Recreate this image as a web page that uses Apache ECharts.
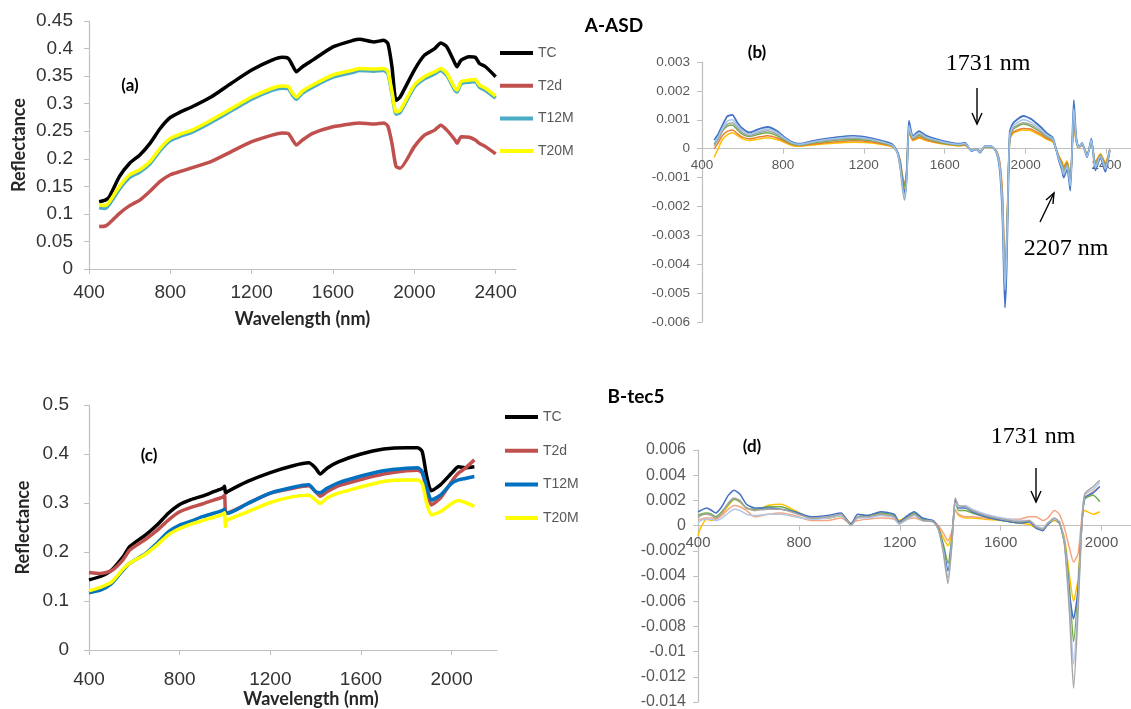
<!doctype html>
<html>
    <head>
        <meta charset="utf-8">
        <style>
            html, body { margin: 0; padding: 0; background: #fff; }
            #main { width: 1131px; height: 709px; }
        </style>
    </head>
    <body>
        <div id="main"></div>
        <script src="https://cdn.jsdelivr.net/npm/echarts@6/dist/echarts.min.js"></script>
        <script>
            // ---- (a) A-ASD reflectance ----
            var A_WL = [450, 480, 500, 550, 600, 650, 700, 750, 800, 850, 900, 1000, 1100, 1200, 1300, 1350, 1380, 1400, 1420, 1450, 1500, 1600, 1700, 1730, 1800, 1850, 1870, 1890, 1910, 1930, 2000, 2050, 2100, 2130, 2160, 2200, 2210, 2230, 2270, 2300, 2320, 2350, 2400];
            var A_TC = [0.122, 0.125, 0.131, 0.168, 0.192, 0.207, 0.228, 0.255, 0.275, 0.285, 0.293, 0.312, 0.337, 0.361, 0.379, 0.384, 0.382, 0.370, 0.358, 0.367, 0.379, 0.403, 0.415, 0.417, 0.412, 0.415, 0.409, 0.367, 0.306, 0.312, 0.361, 0.388, 0.400, 0.410, 0.403, 0.373, 0.367, 0.379, 0.385, 0.384, 0.373, 0.367, 0.349];
            var A_T2d = [0.077, 0.078, 0.083, 0.101, 0.115, 0.125, 0.141, 0.159, 0.171, 0.177, 0.183, 0.195, 0.213, 0.231, 0.243, 0.247, 0.246, 0.235, 0.225, 0.234, 0.246, 0.258, 0.264, 0.265, 0.263, 0.265, 0.259, 0.228, 0.186, 0.183, 0.222, 0.243, 0.252, 0.261, 0.252, 0.234, 0.228, 0.240, 0.239, 0.234, 0.228, 0.222, 0.209];
            var A_T12M = [0.111, 0.110, 0.117, 0.145, 0.166, 0.176, 0.191, 0.215, 0.233, 0.241, 0.247, 0.266, 0.287, 0.308, 0.324, 0.328, 0.327, 0.316, 0.308, 0.319, 0.330, 0.348, 0.357, 0.360, 0.359, 0.360, 0.354, 0.318, 0.281, 0.284, 0.330, 0.345, 0.354, 0.360, 0.351, 0.324, 0.321, 0.336, 0.339, 0.340, 0.330, 0.324, 0.310];
            var A_T20M = [0.116, 0.115, 0.122, 0.150, 0.171, 0.180, 0.195, 0.219, 0.237, 0.245, 0.251, 0.270, 0.291, 0.312, 0.328, 0.332, 0.331, 0.320, 0.312, 0.323, 0.334, 0.352, 0.361, 0.364, 0.363, 0.364, 0.358, 0.322, 0.285, 0.288, 0.334, 0.349, 0.358, 0.364, 0.355, 0.328, 0.325, 0.340, 0.343, 0.344, 0.334, 0.328, 0.314];

            // ---- (b) A-ASD first derivative ----
            var B_WL = [460, 480, 500, 525, 550, 575, 600, 635, 680, 725, 770, 800, 840, 880, 950, 1000, 1070, 1150, 1240, 1300, 1340, 1365, 1380, 1393, 1402, 1413, 1423, 1443, 1473, 1510, 1590, 1675, 1700, 1732, 1757, 1775, 1798, 1830, 1856, 1873, 1886, 1898, 1906, 1914, 1922, 1940, 1988, 2024, 2073, 2106, 2131, 2139, 2164, 2180, 2188, 2205, 2221, 2238, 2250, 2262, 2279, 2304, 2325, 2345, 2370, 2394, 2416];
            var B_S1 = [0.0003, 0.0005, 0.0008, 0.00112, 0.00117, 0.0009, 0.0007, 0.00056, 0.00068, 0.00075, 0.00062, 0.00044, 0.00025, 0.00017, 0.00027, 0.00033, 0.0004, 0.00044, 0.00036, 0.00025, 0.00015, -0.0001, -0.00055, -0.0013, -0.0016, -0.0008, 0.00096, 0.00044, 0.00061, 0.00044, 0.00027, 0.00017, 0.00021, -0.00008, -0.00002, -0.00014, 0.00009, 0.00009, -0.00014, -0.0008, -0.0025, -0.0055, -0.0041, -0.0014, 0.0006, 0.0009, 0.00113, 0.00104, 0.00076, 0.00053, 0.00041, 0.0003, -0.0004, -0.00075, -0.001, -0.0007, -0.00145, 0.00168, 0.0004, 0.00005, 0.0002, -0.0003, 0.00035, -0.00075, -0.0003, -0.0008, -0.00005];
            var B_S2 = [0.0002, 0.0004, 0.0007, 0.00095, 0.001, 0.0008, 0.00062, 0.0005, 0.0006, 0.00068, 0.00056, 0.0004, 0.00022, 0.00015, 0.00024, 0.0003, 0.00036, 0.0004, 0.00032, 0.00022, 0.00012, -0.00012, -0.0006, -0.0014, -0.0017, -0.0009, 0.0008, 0.0004, 0.00055, 0.0004, 0.00024, 0.00015, 0.00019, -0.00006, -0.00001, -0.00012, 0.00008, 0.00008, -0.00012, -0.0007, -0.0022, -0.0049, -0.0036, -0.0012, 0.0005, 0.0008, 0.001, 0.00092, 0.00068, 0.00047, 0.00037, 0.00026, -0.00036, -0.00066, -0.0009, -0.00062, -0.0013, 0.0014, 0.00035, 0.00004, 0.00018, -0.00027, 0.0003, -0.00066, -0.00027, -0.0007, -0.00004];
            var B_S3 = [0.0001, 0.0003, 0.0006, 0.00085, 0.0009, 0.00072, 0.00055, 0.00045, 0.00055, 0.00062, 0.0005, 0.00036, 0.0002, 0.00013, 0.00022, 0.00027, 0.00033, 0.00036, 0.0003, 0.0002, 0.0001, -0.00015, -0.0007, -0.0015, -0.00178, -0.001, 0.0007, 0.00036, 0.0005, 0.00037, 0.00022, 0.00014, 0.00017, -0.00005, 0.0, -0.0001, 0.00007, 0.00007, -0.0001, -0.0006, -0.002, -0.0044, -0.0033, -0.0011, 0.00045, 0.00072, 0.0009, 0.00084, 0.00061, 0.00043, 0.00034, 0.00024, -0.00032, -0.0006, -0.0008, -0.00056, -0.0012, 0.0012, 0.00032, 0.00004, 0.00016, -0.00024, 0.00028, -0.0006, -0.00024, -0.00064, -0.00004];
            var B_S4 = [0.00015, 0.00035, 0.0006, 0.00078, 0.00082, 0.00065, 0.0005, 0.00042, 0.0005, 0.00055, 0.00045, 0.00032, 0.00018, 0.00012, 0.0002, 0.00024, 0.0003, 0.00032, 0.00027, 0.00018, 0.0001, -0.0001, -0.0005, -0.0011, -0.0013, -0.0007, 0.0007, 0.00034, 0.00046, 0.00034, 0.0002, 0.00013, 0.00015, -0.00005, 0.0, -0.0001, 0.00006, 0.00006, -0.0001, -0.0006, -0.0019, -0.0045, -0.0034, -0.0011, 0.0004, 0.00068, 0.00085, 0.00078, 0.00057, 0.0004, 0.00032, 0.00022, -0.0003, -0.00056, -0.00075, -0.00052, -0.0011, 0.0011, 0.0003, 0.00004, 0.00015, -0.00022, 0.00026, -0.00056, -0.00022, -0.0006, -0.00004];
            var B_S5 = [0.0, 0.0002, 0.00045, 0.0006, 0.00065, 0.00052, 0.0004, 0.00034, 0.0004, 0.00045, 0.00038, 0.00028, 0.00015, 0.0001, 0.00016, 0.0002, 0.00024, 0.00027, 0.00023, 0.00015, 0.00008, -0.0001, -0.0004, -0.001, -0.0012, -0.0006, 0.0006, 0.0003, 0.0004, 0.0003, 0.00018, 0.00011, 0.00013, -0.00004, 0.0, -0.00008, 0.00005, 0.00005, -0.00008, -0.0005, -0.0016, -0.0042, -0.0031, -0.001, 0.00035, 0.00058, 0.0007, 0.00068, 0.0005, 0.00035, 0.00027, 0.0002, -0.00026, -0.00049, -0.00065, -0.00046, -0.001, 0.0009, 0.00026, 0.00003, 0.00013, -0.0002, 0.00023, -0.00049, -0.0002, -0.00052, -0.00003];
            var B_S6 = [-0.0003, 0.0, 0.0003, 0.00048, 0.00055, 0.00045, 0.00034, 0.00028, 0.00033, 0.00038, 0.00032, 0.00024, 0.00012, 0.00008, 0.00013, 0.00016, 0.0002, 0.00022, 0.0002, 0.00013, 0.00006, -0.0001, -0.0005, -0.0012, -0.0014, -0.0007, 0.00055, 0.00028, 0.00036, 0.00027, 0.00016, 0.0001, 0.00012, -0.00004, 0.0, -0.00008, 0.00005, 0.00005, -0.00008, -0.0006, -0.0018, -0.0047, -0.0035, -0.0011, 0.0003, 0.00055, 0.00065, 0.00063, 0.00046, 0.00032, 0.00025, 0.00018, -0.00024, -0.00045, -0.0006, -0.00042, -0.0011, 0.0008, 0.00024, 0.00003, 0.00012, -0.00018, 0.00021, -0.00045, -0.00018, -0.00048, -0.00003];

            // ---- (c) B-tec5 reflectance ----
            var C_WL = [400, 450, 500, 550, 580, 650, 700, 750, 800, 850, 900, 950, 990, 998, 1002, 1010, 1100, 1200, 1300, 1370, 1400, 1420, 1450, 1500, 1600, 1700, 1800, 1850, 1870, 1890, 1910, 1950, 2000, 2030, 2060, 2100];
            var C_TC = [0.143, 0.150, 0.163, 0.190, 0.211, 0.235, 0.255, 0.279, 0.297, 0.307, 0.314, 0.323, 0.330, 0.334, 0.320, 0.323, 0.344, 0.362, 0.376, 0.382, 0.371, 0.359, 0.371, 0.384, 0.400, 0.410, 0.413, 0.413, 0.405, 0.354, 0.325, 0.337, 0.361, 0.374, 0.372, 0.374];
            var C_T2d = [0.158, 0.156, 0.162, 0.184, 0.204, 0.226, 0.244, 0.265, 0.282, 0.291, 0.298, 0.306, 0.312, 0.316, 0.282, 0.280, 0.299, 0.320, 0.330, 0.335, 0.323, 0.314, 0.323, 0.335, 0.348, 0.359, 0.366, 0.367, 0.361, 0.327, 0.296, 0.310, 0.344, 0.361, 0.371, 0.388];
            var C_T12M = [0.117, 0.122, 0.136, 0.163, 0.177, 0.197, 0.218, 0.241, 0.255, 0.263, 0.272, 0.279, 0.285, 0.287, 0.279, 0.279, 0.299, 0.320, 0.332, 0.337, 0.323, 0.321, 0.330, 0.341, 0.355, 0.366, 0.371, 0.372, 0.364, 0.333, 0.306, 0.316, 0.340, 0.347, 0.350, 0.354];
            var C_T20M = [0.121, 0.128, 0.139, 0.165, 0.177, 0.196, 0.214, 0.235, 0.248, 0.257, 0.264, 0.271, 0.277, 0.280, 0.252, 0.265, 0.282, 0.301, 0.313, 0.316, 0.306, 0.299, 0.310, 0.320, 0.333, 0.344, 0.347, 0.347, 0.340, 0.299, 0.276, 0.282, 0.299, 0.305, 0.301, 0.293];

            // ---- (d) B-tec5 first derivative ----
            var D_WL = [400, 410, 434, 454, 470, 494, 520, 543, 566, 592, 625, 678, 730, 783, 849, 914, 967, 993, 1006, 1033, 1072, 1125, 1178, 1197, 1230, 1257, 1290, 1333, 1353, 1373, 1391, 1407, 1420, 1433, 1460, 1487, 1540, 1607, 1673, 1713, 1740, 1767, 1787, 1813, 1833, 1853, 1873, 1889, 1907, 1920, 1933, 1967, 1993];
            var D_S1 = [0.0006, 0.0008, 0.0009, 0.0008, 0.0006, 0.001, 0.0018, 0.0022, 0.002, 0.0014, 0.0012, 0.0013, 0.0013, 0.001, 0.0006, 0.0007, 0.0009, 0.0003, 0.0, 0.0007, 0.0007, 0.0009, 0.0007, 0.0002, 0.0006, 0.0009, 0.0004, 0.0003, -0.0003, -0.0022, -0.0046, -0.0014, 0.0022, 0.0016, 0.0015, 0.0012, 0.0008, 0.0005, 0.0003, 0.0004, -0.0001, -0.0003, 0.0002, 0.0006, 0.0003, -0.0015, -0.007, -0.0129, -0.0068, -0.0006, 0.0025, 0.0031, 0.0036];
            var D_S2 = [0.0011, 0.0012, 0.0014, 0.0012, 0.001, 0.0015, 0.0024, 0.0028, 0.0025, 0.0017, 0.0014, 0.0014, 0.0013, 0.0011, 0.0007, 0.0008, 0.001, 0.0004, 0.0001, 0.0009, 0.0008, 0.0011, 0.0009, 0.0003, 0.0008, 0.0011, 0.0006, 0.0004, -0.0002, -0.0018, -0.0036, -0.0011, 0.0021, 0.0014, 0.0014, 0.0011, 0.0007, 0.0004, 0.0002, 0.0003, -0.0002, -0.0004, 0.0001, 0.0005, 0.0002, -0.0014, -0.0055, -0.0074, -0.005, -0.0005, 0.0022, 0.0026, 0.0031];
            var D_S3 = [0.0002, 0.0004, 0.0005, 0.0005, 0.0004, 0.0006, 0.001, 0.0013, 0.0012, 0.0009, 0.0008, 0.0009, 0.0009, 0.0007, 0.0005, 0.0006, 0.0008, 0.0003, 0.0, 0.0006, 0.0006, 0.0008, 0.0006, 0.0001, 0.0005, 0.0008, 0.0004, 0.0003, -0.0003, -0.002, -0.0042, -0.0013, 0.0018, 0.0015, 0.0016, 0.0013, 0.0009, 0.0006, 0.0004, 0.0004, 0.0, -0.0002, 0.0002, 0.0005, 0.0003, -0.0013, -0.0062, -0.011, -0.006, -0.0005, 0.0024, 0.0029, 0.0034];
            var D_S4 = [0.0004, 0.0005, 0.0006, 0.0006, 0.0005, 0.0008, 0.0013, 0.0016, 0.0015, 0.0012, 0.0007, 0.0009, 0.001, 0.0008, 0.0004, 0.0004, 0.0006, 0.0003, 0.0002, 0.0004, 0.0005, 0.0006, 0.0005, 0.0002, 0.0005, 0.0006, 0.0004, 0.0003, 0.0, -0.0006, -0.0012, -0.0004, 0.0012, 0.0009, 0.0007, 0.0007, 0.0006, 0.0005, 0.0005, 0.0007, 0.0007, 0.0004, 0.0006, 0.0012, 0.0009, -0.0002, -0.0018, -0.0029, -0.0022, 0.0003, 0.0022, 0.0027, 0.0031];
            var D_S5 = [-0.0008, -0.0002, 0.0005, 0.0004, 0.0005, 0.0009, 0.0016, 0.0021, 0.0019, 0.0014, 0.0012, 0.0016, 0.0017, 0.0012, 0.0006, 0.0006, 0.0008, 0.0004, 0.0002, 0.0006, 0.0008, 0.0009, 0.0008, 0.0004, 0.0007, 0.0009, 0.0005, 0.0003, -0.0001, -0.001, -0.0016, -0.0006, 0.0013, 0.0008, 0.0006, 0.0006, 0.0005, 0.0004, 0.0002, 0.0001, -0.0002, -0.0003, 0.0001, 0.0004, 0.0002, -0.001, -0.004, -0.006, -0.0042, -0.0002, 0.0012, 0.0009, 0.0011];
            var D_S6 = [0.0008, 0.0009, 0.001, 0.0009, 0.0007, 0.0011, 0.0017, 0.0021, 0.0019, 0.0014, 0.0013, 0.0015, 0.0015, 0.0011, 0.0006, 0.0006, 0.0008, 0.0003, 0.0001, 0.0007, 0.0008, 0.001, 0.0008, 0.0003, 0.0007, 0.001, 0.0005, 0.0003, -0.0002, -0.0015, -0.003, -0.0009, 0.0019, 0.0012, 0.0012, 0.001, 0.0007, 0.0004, 0.0002, 0.0003, -0.0001, -0.0003, 0.0001, 0.0005, 0.0002, -0.0012, -0.005, -0.0092, -0.0052, -0.0004, 0.0021, 0.0024, 0.0019];

            var LEGEND_NAMES = ['TC', 'T2d', 'T12M', 'T20M'];

            function pairs(wl, vals) {
                return wl.map(function (w, i) { return [w, vals[i]]; });
            }

            var AXIS_GREY = '#bfbfbf';
            var BIG_FONT = 'Liberation Sans';
            var TITLE_FONT = 'Lato';

            // offset lifts the wavelength axis of the derivative panels up to y = 0
            function xAxis(gi, min, max, fontSize, margin, color, name, nameGap, namePad, offset) {
                return {
                    gridIndex: gi, type: 'value', min: min, max: max, interval: 400,
                    offset: offset || 0,
                    splitLine: { show: false },
                    axisLine: { onZero: false, lineStyle: { color: AXIS_GREY, width: 1.2 } },
                    axisTick: { show: true, length: 5, lineStyle: { color: AXIS_GREY } },
                    axisLabel: {
                        fontFamily: BIG_FONT, fontSize: fontSize, color: color, margin: margin, showMaxLabel: false,
                        formatter: function (v) { return String(v); }
                    },
                    name: name, nameLocation: 'middle', nameGap: nameGap,
                    nameTextStyle: { fontFamily: TITLE_FONT, fontWeight: 'bold', fontSize: 18, color: '#262626', padding: namePad || 0 }
                };
            }
            function yAxis(gi, min, max, interval, fontSize, margin, color, name, nameGap) {
                return {
                    gridIndex: gi, type: 'value', min: min, max: max, interval: interval,
                    splitLine: { show: false },
                    axisLine: { show: true, onZero: false, lineStyle: { color: AXIS_GREY, width: 1.2 } },
                    axisTick: { show: true, length: 5, lineStyle: { color: AXIS_GREY } },
                    axisLabel: { fontFamily: BIG_FONT, fontSize: fontSize, color: color, margin: margin },
                    name: name, nameLocation: 'middle', nameGap: nameGap,
                    nameTextStyle: { fontFamily: TITLE_FONT, fontWeight: 'bold', fontSize: 18, color: '#262626' }
                };
            }
            function line(name, gi, wl, vals, color, width) {
                return {
                    name: name, type: 'line', xAxisIndex: gi, yAxisIndex: gi,
                    data: pairs(wl, vals), showSymbol: false, smooth: 0.2,
                    lineStyle: { color: color, width: width }, itemStyle: { color: color },
                    emphasis: { disabled: true }
                };
            }
            function txt(x, y, s, font) {
                return {
                    type: 'text', x: x, y: y,
                    style: { text: s, font: font, fill: '#000', align: 'center', verticalAlign: 'middle', textAlign: 'center', textVerticalAlign: 'middle' }
                };
            }
            function arrow(x1, y1, x2, y2, head) {
                return [
                    { type: 'line', shape: { x1: x1, y1: y1, x2: x2, y2: y2 }, style: { stroke: '#000', lineWidth: 1.4 } },
                    { type: 'polyline', shape: { points: head }, style: { stroke: '#000', lineWidth: 1.4, fill: null } }
                ];
            }
            function legend(left, top, gap, colors) {
                return {
                    orient: 'vertical', left: left, top: top, padding: 0,
                    itemWidth: 33, itemHeight: 4, icon: 'rect', itemGap: gap, selectedMode: false,
                    textStyle: { fontSize: 14, lineHeight: 16, color: '#595959', fontFamily: BIG_FONT },
                    data: LEGEND_NAMES.map(function (n, i) {
                        return { name: n, itemStyle: { color: colors[i] } };
                    })
                };
            }

            var chart = echarts.init(document.getElementById('main'));

            var graphics = [
                txt(614, 26, 'A-ASD', 'bold 19px Lato'),
                txt(636, 397, 'B-tec5', 'bold 19px Lato'),
                txt(130, 86, '(a)', 'bold 17px Lato'),
                txt(757, 53, '(b)', 'bold 17px Lato'),
                txt(149, 456, '(c)', 'bold 17px Lato'),
                txt(752, 447, '(d)', 'bold 17px Lato'),
                txt(988, 64, '1731 nm', '24px "Liberation Serif"'),
                txt(1066, 249, '2207 nm', '24px "Liberation Serif"'),
                txt(1033, 437, '1731 nm', '24px "Liberation Serif"')
            ].concat(
                arrow(977, 88, 977, 124, [[972, 113], [977, 124], [982, 113]]),
                arrow(1040, 222, 1054, 193, [[1046, 200], [1054, 193], [1053, 204]]),
                arrow(1036, 468, 1036, 502, [[1031, 491], [1036, 502], [1041, 491]])
            );

            chart.setOption({
                animation: false,
                textStyle: { fontFamily: BIG_FONT },
                grid: [
                    { left: 89, top: 21, width: 427, height: 248, outerBoundsMode: 'none', containLabel: false },
                    { left: 702, top: 62, width: 445, height: 260, outerBoundsMode: 'none', containLabel: false },
                    { left: 89, top: 405, width: 408, height: 245, outerBoundsMode: 'none', containLabel: false },
                    { left: 698, top: 450, width: 454, height: 252, outerBoundsMode: 'none', containLabel: false }
                ],
                xAxis: [
                    xAxis(0, 400, 2500, 19, 14, '#333', 'Wavelength (nm)', 41),
                    xAxis(1, 400, 2600, 13.5, 10, '#595959', '', 0, 0, -173.3),
                    xAxis(2, 400, 2200, 19, 20, '#333', 'Wavelength (nm)', 38, [0, 0, 0, 36]),
                    xAxis(3, 400, 2200, 15, 10, '#595959', '', 0, 0, -176.4)
                ],
                yAxis: [
                    yAxis(0, 0, 0.45, 0.05, 19, 16, '#333', 'Reflectance', 61),
                    yAxis(1, -0.006, 0.003, 0.001, 13.5, 12, '#595959', '', 0),
                    yAxis(2, 0, 0.5, 0.1, 19, 20, '#333', 'Reflectance', 57),
                    yAxis(3, -0.014, 0.006, 0.002, 16, 12, '#595959', '', 0)
                ],
                legend: [
                    legend(500, 45, 16.7, ['#000000', '#c0504d', '#4bacc6', '#ffff00']),
                    legend(505, 409, 17.7, ['#000000', '#c0504d', '#0070c0', '#ffff00'])
                ],
                series: [
                    line('TC', 0, A_WL, A_TC, '#000000', 3.5),
                    line('T2d', 0, A_WL, A_T2d, '#c0504d', 3.5),
                    line('T12M', 0, A_WL, A_T12M, '#4bacc6', 3.5),
                    line('T20M', 0, A_WL, A_T20M, '#ffff00', 3.5),

                    line('b6', 1, B_WL, B_S6, '#ffc000', 1.5),
                    line('b5', 1, B_WL, B_S5, '#ed7d31', 1.5),
                    line('b4', 1, B_WL, B_S4, '#70ad47', 1.5),
                    line('b3', 1, B_WL, B_S3, '#a5a5a5', 1.5),
                    line('b1', 1, B_WL, B_S1, '#4472c4', 1.8),
                    line('b2', 1, B_WL, B_S2, '#9dc3e6', 1.5),

                    line('TC', 2, C_WL, C_TC, '#000000', 3.5),
                    line('T2d', 2, C_WL, C_T2d, '#c0504d', 3.5),
                    line('T12M', 2, C_WL, C_T12M, '#0070c0', 3.5),
                    line('T20M', 2, C_WL, C_T20M, '#ffff00', 3.5),

                    line('d5', 3, D_WL, D_S5, '#ffc000', 1.5),
                    line('d4', 3, D_WL, D_S4, '#f4a582', 1.5),
                    line('d6', 3, D_WL, D_S6, '#70ad47', 1.5),
                    line('d2', 3, D_WL, D_S2, '#4472c4', 1.5),
                    line('d3', 3, D_WL, D_S3, '#b4c7e7', 1.5),
                    line('d1', 3, D_WL, D_S1, '#a5a5a5', 1.5)
                ],
                graphic: graphics
            });

            window.addEventListener('resize', function () {
                chart.resize();
            });
        </script>
    </body>
</html>
